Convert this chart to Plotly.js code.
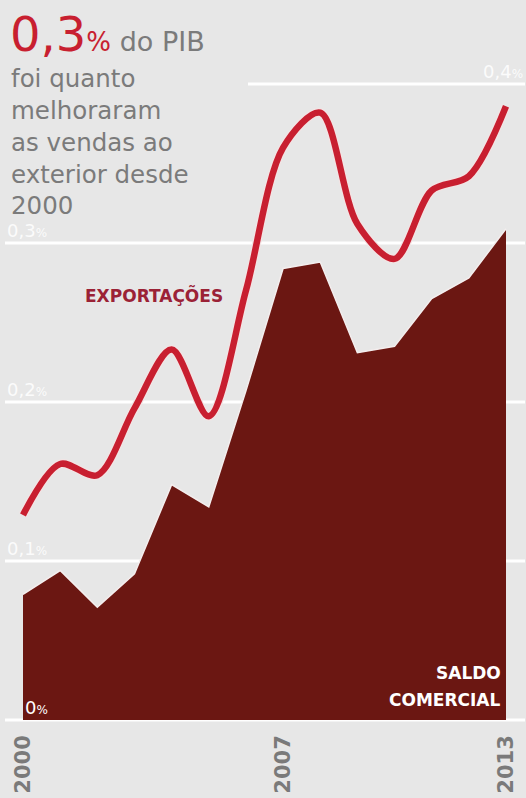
<!DOCTYPE html>
<html>
<head>
<meta charset="utf-8">
<script src="https://cdn.plot.ly/plotly-3.0.1.min.js"></script>
<style>
html,body{margin:0;padding:0;background:#e7e7e7;}
#chart{width:526px;height:798px;}
</style>
</head>
<body>
<div id="chart"></div>
<script>
const years = [2000, 2001, 2002, 2003, 2004, 2005, 2006, 2007, 2008, 2009, 2010, 2011, 2012, 2013];
const exportacoes = [0.129, 0.161, 0.154, 0.196, 0.233, 0.191, 0.270, 0.360, 0.382, 0.312, 0.290, 0.333, 0.342, 0.386];
const saldoComercial = [0.079, 0.094, 0.071, 0.092, 0.148, 0.134, 0.207, 0.284, 0.288, 0.231, 0.235, 0.265, 0.278, 0.309];
const xTickVals = [2000, 2007, 2013];
const xTickText = ['2000', '2007', '2013'];
const gridValues = [0, 0.1, 0.2, 0.3, 0.4];
const gridLabels = ['0', '0,1', '0,2', '0,3', '0,4'];

const BG = '#e7e7e7';
const RED = '#c81f30';
const DARK = '#6b1712';
const GRAY = '#7b7b7b';

const traces = [
  {
    x: years, y: saldoComercial, type: 'scatter', mode: 'lines',
    fill: 'tozeroy', fillcolor: DARK,
    line: {color: '#f4eeee', width: 1.5, shape: 'linear'},
    hoverinfo: 'skip'
  },
  {
    x: years, y: exportacoes, type: 'scatter', mode: 'lines',
    line: {color: '#f3e4e4', width: 9, shape: 'spline', smoothing: 0.9},
    hoverinfo: 'skip'
  },
  {
    x: years, y: exportacoes, type: 'scatter', mode: 'lines',
    line: {color: RED, width: 6.5, shape: 'spline', smoothing: 0.9},
    hoverinfo: 'skip'
  }
];

// plot area: x 5..525, y 20..730
const L = 5, R = 1, T = 20, B = 68, W = 526, H = 798;
const pw = W - L - R, ph = H - T - B;
const px = p => (p - L) / pw;
const py = p => (H - B - p) / ph;

const shapes = gridValues.map(v => ({
  type: 'line', xref: 'paper', yref: 'y',
  x0: v === 0.4 ? px(248) : 0, x1: 1, y0: v, y1: v,
  line: {color: '#ffffff', width: 3}, layer: 'below'
}));

const annotations = [];
gridValues.forEach((v, i) => {
  const txt = gridLabels[i] + '<span style="font-size:12px">%</span>';
  let a = {
    xref: 'paper', yref: 'y', y: v, yanchor: 'bottom', yshift: 1,
    text: txt, showarrow: false, borderpad: 0,
    font: {family: 'DejaVu Sans', size: 18, color: 'rgba(255,255,255,0.85)'}
  };
  if (v === 0) { a.x = px(24); a.xanchor = 'left'; a.font.color = '#ffffff'; }
  else if (v === 0.4) { a.x = px(524); a.xanchor = 'right'; }
  else { a.x = px(6); a.xanchor = 'left'; }
  annotations.push(a);
});

annotations.push({
  xref: 'paper', yref: 'paper', x: px(9), y: py(5), xanchor: 'left', yanchor: 'top',
  showarrow: false, align: 'left', borderpad: 0,
  text: '<span style="font-size:48px;color:' + RED + '">0,3</span><span style="font-size:26px;color:' + RED + '">%</span> do PIB',
  font: {family: 'DejaVu Sans', size: 27, color: GRAY}
});
annotations.push({
  xref: 'paper', yref: 'paper', x: px(10), y: py(63), xanchor: 'left', yanchor: 'top',
  showarrow: false, align: 'left', borderpad: 0,
  text: 'foi quanto<br>melhoraram<br>as vendas ao<br>exterior desde<br>2000',
  font: {family: 'DejaVu Sans', size: 24.5, color: GRAY}
});
annotations.push({
  xref: 'paper', yref: 'paper', x: px(154), y: py(295), xanchor: 'center', yanchor: 'middle',
  showarrow: false, text: '<b>EXPORTAÇÕES</b>',
  font: {family: 'DejaVu Sans', size: 17, color: '#9b2236'}
});
annotations.push({
  xref: 'paper', yref: 'paper', x: px(503), y: py(673), xanchor: 'right', yanchor: 'middle',
  showarrow: false, text: '<b>SALDO</b>',
  font: {family: 'DejaVu Sans', size: 17, color: '#ffffff'}
});
annotations.push({
  xref: 'paper', yref: 'paper', x: px(503), y: py(700), xanchor: 'right', yanchor: 'middle',
  showarrow: false, text: '<b>COMERCIAL</b>',
  font: {family: 'DejaVu Sans', size: 17, color: '#ffffff'}
});

const xPerYear = 483 / 13;
const layout = {
  width: W, height: H,
  margin: {l: L, r: R, t: T, b: B, pad: 0},
  paper_bgcolor: BG, plot_bgcolor: BG,
  showlegend: false,
  xaxis: {
    range: [2000 - 18 / xPerYear, 2013 + 19 / xPerYear],
    tickvals: xTickVals, ticktext: xTickText, tickangle: -90,
    showgrid: false, zeroline: false, showline: false, ticks: '',
    tickfont: {family: 'DejaVu Sans', size: 21, color: '#7a7a7a', weight: 'bold'},
    fixedrange: true
  },
  yaxis: {
    // 0 at y=720 px, 0.1 per 159 px
    range: [-(H - B - 720) / 1590, (720 - T) / 1590],
    showgrid: false, zeroline: false, showline: false, showticklabels: false, ticks: '',
    fixedrange: true
  },
  shapes: shapes,
  annotations: annotations
};

Plotly.newPlot('chart', traces, layout, {displayModeBar: false, staticPlot: true});
</script>
</body>
</html>
